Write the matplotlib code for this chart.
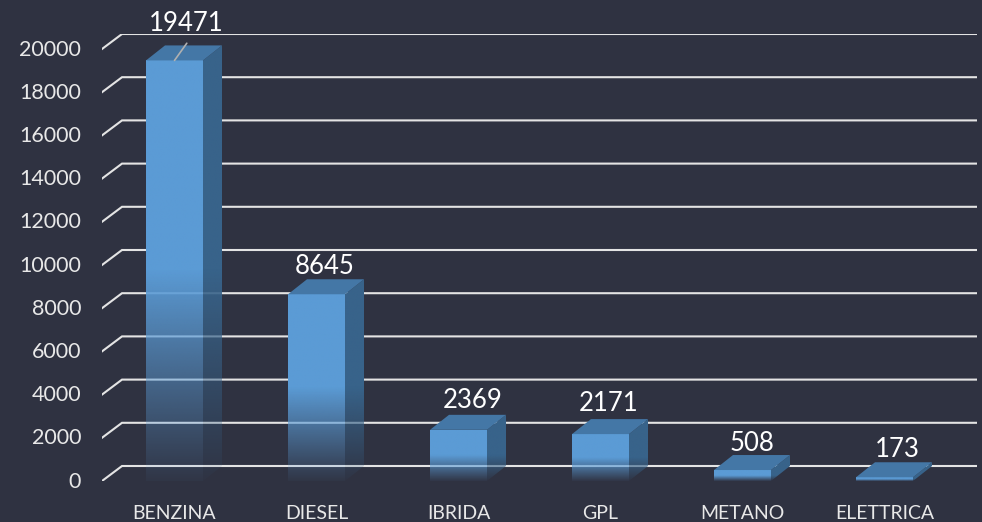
import numpy as np
import matplotlib
matplotlib.use("Agg")
import matplotlib.pyplot as plt
from matplotlib.patches import Polygon
from matplotlib.colors import to_rgb
from matplotlib.transforms import ScaledTranslation

categories = ["BENZINA", "DIESEL", "IBRIDA", "GPL", "METANO", "ELETTRICA"]
values = [19471, 8645, 2369, 2171, 508, 173]
y_ticks = [0, 2000, 4000, 6000, 8000, 10000, 12000, 14000, 16000, 18000, 20000]

BG = "#2F3241"
FRONT = "#5B9BD5"
SIDE = "#38638A"
TOP = "#4477A6"
LINE = "#E4E4E4"
W, H = 982, 522

plt.rcParams["font.family"] = ["Lato", "DejaVu Sans"]

# pixel scale of the picture
px_per_cat = 142.0
px_per_val = 0.0216
hw = 28.5 / px_per_cat
dx = 19 / px_per_cat
dy = 15 / px_per_val


def fade_image(ax, color, x0, x1, y0, y1, clip, fade_top):
    # solid above fade_top, going transparent down to the floor
    n = 256
    ys = np.linspace(y0, y1, n)
    img = np.zeros((n, 1, 4))
    img[:, :, :3] = to_rgb(color)
    img[:, 0, 3] = np.clip(0.04 + 0.96 * ys / fade_top, 0, 1)
    im = ax.imshow(img, extent=(x0, x1, y0, y1), origin="lower", aspect="auto",
                   interpolation="bilinear", zorder=3)
    im.set_clip_path(clip)


fig = plt.figure(figsize=(W / 100, H / 100), dpi=100, facecolor=BG)
ax = fig.add_axes([102 / W, 1 - 481 / H, (977 - 102) / W, (481 - 34) / H])
ax.set_facecolor(BG)

x_left = (102 - 174.5) / px_per_cat
x_right = (977 - 174.5) / px_per_cat

for t in y_ticks:
    ax.plot([x_left, x_left + 20 / px_per_cat, x_right], [t, t + dy, t + dy],
            color=LINE, lw=1.5, zorder=1, solid_joinstyle="miter")

for i, v in enumerate(values):
    xl, xr = i - hw, i + hw
    front = Polygon([(xl, 0), (xr, 0), (xr, v), (xl, v)], transform=ax.transData,
                    fc="none", ec="none")
    side = Polygon([(xr, 0), (xr + dx, dy), (xr + dx, v + dy), (xr, v)],
                   transform=ax.transData, fc="none", ec="none")
    ax.add_patch(front)
    ax.add_patch(side)
    fade_image(ax, FRONT, xl, xr, 0, v, front, v * 0.5)
    fade_image(ax, SIDE, xr, xr + dx, 0, v + dy, side, v * 0.5)
    ax.add_patch(Polygon([(xl, v), (xr, v), (xr + dx, v + dy), (xl + dx, v + dy)],
                         fc=TOP, ec="none", zorder=4))

# data labels, offset in pixels from the top front corner centre
label_offsets = [(11.5, 37), (8.5, 28), (14, 29.5), (8, 31), (10, 27), (13, 28)]
for i, v in enumerate(values):
    ox, oy = label_offsets[i]
    if i == 0:
        ax.annotate(str(v), xy=(i, v), xytext=(ox, oy), textcoords="offset pixels",
                    color="white", fontsize=18.5, ha="center", va="center", zorder=6,
                    arrowprops=dict(arrowstyle="-", color="#B0B0B0", lw=1.2,
                                    relpos=(0.7, 0.5), shrinkA=4, shrinkB=0))
    else:
        ax.annotate(str(v), xy=(i, v), xytext=(ox, oy), textcoords="offset pixels",
                    color="white", fontsize=18.5, ha="center", va="center", zorder=6)

ax.set_xlim(x_left, x_right)
ax.set_ylim(0, (481 - 34) / px_per_val)
ax.set_xticks(range(len(categories)))
ax.set_xticklabels(categories, fontsize=14, color="#E8E8E8")
ax.set_yticks(y_ticks)
ax.set_yticklabels([str(t) for t in y_ticks], fontsize=15.5, color="#E8E8E8")
ax.tick_params(axis="x", length=0, pad=17.5)
ax.tick_params(axis="y", length=0, pad=15)
up = ScaledTranslation(0, 1 / 72, fig.dpi_scale_trans)
for lab in ax.get_yticklabels():
    lab.set_transform(lab.get_transform() + up)
for s in ax.spines.values():
    s.set_visible(False)

fig.savefig("out.png", dpi=100, facecolor=BG)
